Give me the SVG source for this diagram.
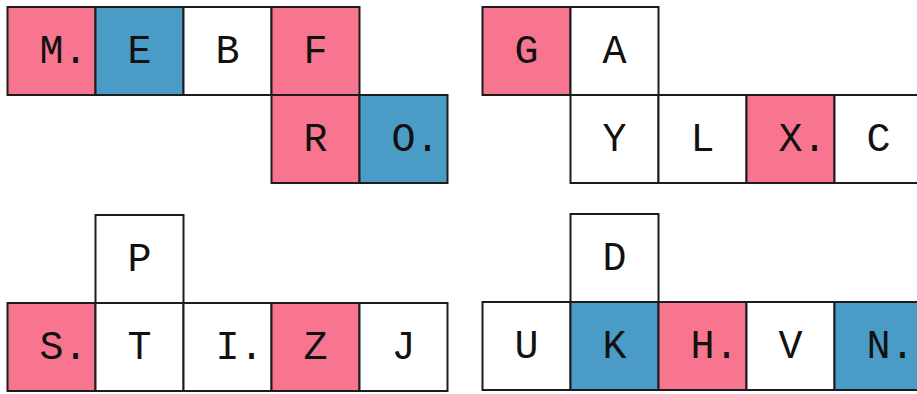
<svg xmlns="http://www.w3.org/2000/svg" width="917" height="394" viewBox="0 0 917 394">
<style>
rect{stroke:#1c1c1c;stroke-width:2}
.w{fill:#ffffff}
.p{fill:#f8758f}
.b{fill:#4b9bc7}
text{font-family:"Liberation Mono","Courier New",monospace;font-size:40px;fill:#111}
</style>
<rect x="0" y="0" width="917" height="394" fill="#fff" style="stroke:none"/>
<g id="top-left">
<g id="cM"><rect class="p" x="7.5" y="7" width="88" height="88"/><text x="39.5" y="63">M.</text></g>
<g id="cE"><rect class="b" x="95.5" y="7" width="88" height="88"/><text x="127.5" y="63">E</text></g>
<g id="cB"><rect class="w" x="183.5" y="7" width="88" height="88"/><text x="215.5" y="63">B</text></g>
<g id="cF"><rect class="p" x="271.5" y="7" width="88" height="88"/><text x="303.5" y="63">F</text></g>
<g id="cR"><rect class="p" x="271.5" y="95" width="88" height="88"/><text x="303.5" y="151">R</text></g>
<g id="cO"><rect class="b" x="359.5" y="95" width="88" height="88"/><text x="391.5" y="151">O.</text></g>
</g>
<g id="top-right">
<g id="cG"><rect class="p" x="482.5" y="7" width="88" height="88"/><text x="514.5" y="63">G</text></g>
<g id="cA"><rect class="w" x="570.5" y="7" width="88" height="88"/><text x="602.5" y="63">A</text></g>
<g id="cY"><rect class="w" x="570.5" y="95" width="88" height="88"/><text x="602.5" y="151">Y</text></g>
<g id="cL"><rect class="w" x="658.5" y="95" width="88" height="88"/><text x="690.5" y="151">L</text></g>
<g id="cX"><rect class="p" x="746.5" y="95" width="88" height="88"/><text x="778.5" y="151">X.</text></g>
<g id="cC"><rect class="w" x="834.5" y="95" width="88" height="88"/><text x="866.5" y="151">C</text></g>
</g>
<g id="bottom-left">
<g id="cP"><rect class="w" x="95.5" y="215" width="88" height="88"/><text x="127.5" y="271">P</text></g>
<g id="cS"><rect class="p" x="7.5" y="303" width="88" height="88"/><text x="39.5" y="359">S.</text></g>
<g id="cT"><rect class="w" x="95.5" y="303" width="88" height="88"/><text x="127.5" y="359">T</text></g>
<g id="cI"><rect class="w" x="183.5" y="303" width="88" height="88"/><text x="215.5" y="359">I.</text></g>
<g id="cZ"><rect class="p" x="271.5" y="303" width="88" height="88"/><text x="303.5" y="359">Z</text></g>
<g id="cJ"><rect class="w" x="359.5" y="303" width="88" height="88"/><text x="391.5" y="359">J</text></g>
</g>
<g id="bottom-right">
<g id="cD"><rect class="w" x="570.5" y="214" width="88" height="88"/><text x="602.5" y="270">D</text></g>
<g id="cU"><rect class="w" x="482.5" y="302" width="88" height="88"/><text x="514.5" y="358">U</text></g>
<g id="cK"><rect class="b" x="570.5" y="302" width="88" height="88"/><text x="602.5" y="358">K</text></g>
<g id="cH"><rect class="p" x="658.5" y="302" width="88" height="88"/><text x="690.5" y="358">H.</text></g>
<g id="cV"><rect class="w" x="746.5" y="302" width="88" height="88"/><text x="778.5" y="358">V</text></g>
<g id="cN"><rect class="b" x="834.5" y="302" width="88" height="88"/><text x="866.5" y="358">N.</text></g>
</g>
<g id="connectors"/>
</svg>
